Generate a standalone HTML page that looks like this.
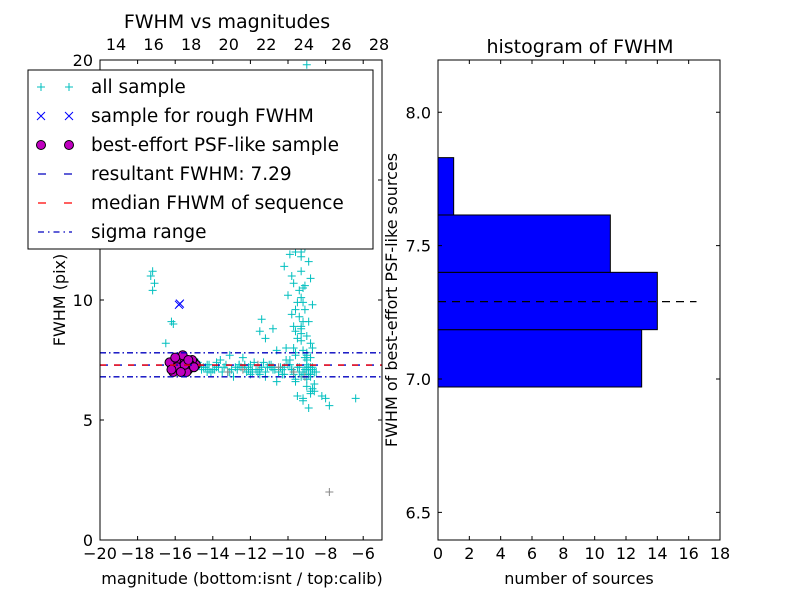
<!DOCTYPE html>
<html><head><meta charset="utf-8"><style>
html,body{margin:0;padding:0;background:#fff;}
svg{display:block;font-family:"DejaVu Sans","Liberation Sans",sans-serif;}
</style></head><body>
<svg id="chart" width="800" height="600" viewBox="0 0 800 600" xmlns="http://www.w3.org/2000/svg">
<g id="left"></g>
<g id="right"></g>
</svg>
<script>
// ---- scatter data ----
const allX = [-17.7,-17.6,-17.6,-17.2,-17.3,-17.1,-17.2,-16.1,-16.5,-14.2,-13.8,-13.2,-12.6,-12.3,-12.0,-11.8,-11.5,-11.2,-11.0,-10.8,-10.5,-10.3,-10.0,-9.8,-9.6,-9.4,-9.2,-9.0,-8.8,-8.6,
-14.5,-14.3,-14.0,-13.7,-13.5,-13.3,-13.0,-12.8,-12.5,-12.2,-12.0,-11.7,-11.4,-11.2,-10.9,-10.7,-10.4,-10.2,-9.9,-9.7,-9.5,-9.3,-9.1,-8.9,-8.7,-8.5,-14.8,-14.1,-13.6,-12.9,-12.4,-11.9,-11.3,-10.6,-10.1,-9.6,-9.0,-8.6,
-10.4,-10.2,-10.0,-9.9,-9.8,-9.7,-9.6,-9.5,-9.4,-9.3,-9.3,-9.2,-9.1,-9.1,-9.0,-9.0,-8.9,-8.9,-8.8,-8.8,-8.7,-8.7,-9.5,-9.4,-9.2,-9.0,-8.9,-9.6,-9.3,-9.1,-8.8,-9.8,-9.5,-9.2,-9.0,-8.9,-9.7,-9.4,-9.1,-8.8,-9.3,-9.0,-9.6,-9.2,-8.9,-9.4,-9.1,-9.3,-9.0,-9.5,-9.2,
-11.4,-11.2,-11.5,-10.8,-12.1,-10.6,-10.1,-9.9,-9.6,-9.3,-9.0,-8.8,-8.7,-9.2,-8.9,-8.6,-8.2,-8.0,-7.8,-6.4,-13.1,-16.2,
-14.6,-14.4,-14.2,-13.9,-13.4,-13.1,-12.7,-12.3,-11.9,-11.6,-11.1,-10.8,-10.5,-10.2,-9.8,-9.4,-9.0,-8.7,-14.7,-14.3,-13.8,-13.2,-12.6,-12.1,-11.5,-10.9,-10.3,-9.7,-9.2,-8.8,
-9.8,-9.6,-9.4,-9.2,-9.0,-8.9,-9.5,-9.3,-9.1,-8.9,-9.7,-9.2,-9.0,-8.8,-9.4,-9.1,-8.9,-9.6,-9.3,-9.0];
const allY = [12.9,12.8,12.5,11.2,11.0,10.7,10.4,9.0,8.2,7.1,7.4,7.0,7.3,7.2,6.9,7.4,7.1,6.8,7.3,7.2,7.0,6.9,7.3,7.1,6.7,7.2,6.9,7.1,6.8,7.0,
7.2,7.3,7.1,7.2,7.0,7.3,7.1,7.2,7.2,7.0,7.3,7.1,7.2,7.0,7.3,7.1,7.2,6.9,7.3,7.0,7.2,6.8,7.1,6.9,7.2,7.0,7.4,7.0,7.5,6.8,7.6,7.0,7.4,6.6,7.5,6.6,7.8,6.5,
12.3,11.4,10.2,11.9,9.4,10.7,12.0,9.9,13.8,11.2,8.8,10.5,14.2,9.6,12.8,8.5,11.6,9.1,10.9,8.2,9.8,8.0,15.0,16.3,17.8,19.8,13.2,7.8,8.3,12.4,6.2,11.0,6.0,5.9,6.4,13.6,8.0,9.3,7.6,6.1,10.1,7.3,8.7,7.9,6.9,14.8,16.9,12.0,18.4,8.4,9.1,
9.2,8.4,8.7,8.8,7.2,7.9,8.0,7.5,9.6,8.9,7.7,7.6,6.3,5.8,5.5,6.2,6.0,5.9,5.6,5.9,7.7,9.1,
7.1,7.2,7.3,7.1,7.2,7.0,7.1,7.3,7.1,7.0,7.2,7.1,7.0,7.2,7.1,7.0,7.2,7.1,7.3,7.0,7.2,7.0,7.3,7.1,6.9,7.2,7.1,6.9,7.0,7.2,
15.5,14.1,13.0,15.8,16.6,14.5,12.6,11.8,10.6,13.3,8.9,9.9,7.5,6.9,10.4,12.2,7.2,7.7,8.6,6.7];
const grayX = [-7.8,-13.2,-10.5,-9.1,-11.6,-12.4,-9.7];
const grayY = [2.0,7.0,7.2,6.8,7.3,7.1,7.0];
const roughX = [-15.75,-15.8];
const roughY = [9.85,9.8];
const psfX = [-16.2,-16.0,-15.8,-15.6,-15.4,-15.2,-15.0,-14.9,-16.1,-15.9,-15.7,-15.5,-15.3,-15.1,-16.3,-15.6,-15.2,-15.9,-15.4,-16.0,-15.5,-15.7,-15.0,-16.2,-15.3];
const psfY = [7.3,7.1,7.4,7.6,7.3,7.2,7.4,7.3,7.0,7.5,7.2,7.4,7.1,7.5,7.4,7.7,7.3,7.2,7.0,7.6,7.3,7.0,7.2,7.1,7.5];
const resultFWHM = 7.29, medianFWHM = 7.29, sigmaLo = 6.8, sigmaHi = 7.8;
const xTicks = [-20,-18,-16,-14,-12,-10,-8,-6];
const xTickLabels = ["\u221220","\u221218","\u221216","\u221214","\u221212","\u221210","\u22128","\u22126"];
const topTicks = [14,16,18,20,22,24,26,28];
const yTicks = [0,5,10,15,20];
// ---- histogram data ----
const binEdges = [6.97,7.185,7.40,7.615,7.83];
const binCounts = [13,14,11,1];
const hxTicks = [0,2,4,6,8,10,12,14,16,18];
const hyTicks = [6.5,7.0,7.5,8.0];
const hyTickLabels = ["6.5","7.0","7.5","8.0"];

const NS="http://www.w3.org/2000/svg";
function mk(parent,tag,attrs,text){const e=document.createElementNS(NS,tag);for(const k in attrs)e.setAttribute(k,attrs[k]);if(text!==undefined)e.textContent=text;parent.appendChild(e);return e;}

const L={x0:100,x1:382,y0:60,y1:540};
const xs=v=>L.x0+(v+20)*(L.x1-L.x0)/15;
const ts=v=>116+(v-14)*(379-116)/14;
const ys=v=>L.y1-v*(L.y1-L.y0)/20;
const left=document.getElementById('left');

for(let i=0;i<allX.length;i++){
  const g=mk(left,'path',{d:`M${xs(allX[i])-4},${ys(allY[i])}h8M${xs(allX[i])},${ys(allY[i])-4}v8`,stroke:'#00bfbf','stroke-width':1});
  
  
}
for(let i=0;i<grayX.length;i++){
  const g=mk(left,'path',{d:`M${xs(grayX[i])-4},${ys(grayY[i])}h8M${xs(grayX[i])},${ys(grayY[i])-4}v8`,stroke:'#888','stroke-width':1});
  
  
}
for(let i=0;i<roughX.length;i++){
  const x=xs(roughX[i]),y=ys(roughY[i]);
  const g=mk(left,'path',{d:`M${x-4},${y-4}l8,8M${x-4},${y+4}l8,-8`,stroke:'#0000ff','stroke-width':1});
  
  
}
for(let i=0;i<psfX.length;i++){
  const c=mk(left,'circle',{cx:xs(psfX[i]),cy:ys(psfY[i]),r:4.5,fill:'#bf00bf',stroke:'#000','stroke-width':1});
  
  
}
function hline(v,color,dash,name){
  const l=mk(left,'line',{x1:L.x0,x2:L.x1,y1:ys(v),y2:ys(v),stroke:color,'stroke-width':1.3,'stroke-dasharray':dash});
  
  
}
hline(sigmaHi,'#0000bf','6,3,1.5,3','sigma-upper-line');
hline(sigmaLo,'#0000bf','6,3,1.5,3','sigma-lower-line');
hline(resultFWHM,'#0000bf','8,6','resultant-fwhm-line');
hline(medianFWHM,'#ff0000','6,8','median-fwhm-line');

mk(left,'rect',{x:L.x0,y:L.y0,width:L.x1-L.x0,height:L.y1-L.y0,fill:'none',stroke:'#000','stroke-width':1});
xTicks.forEach((t,i)=>{const x=xs(t);
  mk(left,'path',{d:`M${x},${L.y1}v-4M${x},${L.y0}v4`,stroke:'#000'});
  const tx=mk(left,'text',{x:x,y:559,'font-size':16,'text-anchor':'middle'},xTickLabels[i]);
  
  
});
topTicks.forEach(t=>{const x=ts(t);
  const tx=mk(left,'text',{x:x,y:50,'font-size':16,'text-anchor':'middle'},String(t));
  
  
});
yTicks.forEach(t=>{const y=ys(t);
  mk(left,'path',{d:`M${L.x0},${y}h4M${L.x1},${y}h-4`,stroke:'#000'});
  const tx=mk(left,'text',{x:93,y:y+6,'font-size':16,'text-anchor':'end'},String(t));
  
  
});
mk(left,'text',{x:227,y:28,'font-size':19,'text-anchor':'middle',},'FWHM vs magnitudes');
mk(left,'text',{x:242,y:584,'font-size':16,'text-anchor':'middle',},'magnitude (bottom:isnt / top:calib)');
mk(left,'text',{x:0,y:0,'font-size':16,'text-anchor':'middle',transform:'translate(65,300) rotate(-90)',},'FWHM (pix)');

const lg=mk(left,'g',{});
mk(lg,'rect',{x:28,y:70,width:345,height:179,fill:'#fff',stroke:'#000','stroke-width':1});
const entries=['all sample','sample for rough FWHM','best-effort PSF-like sample','resultant FWHM: 7.29','median FHWM of sequence','sigma range'];
entries.forEach((t,i)=>{
  const y=87+i*29;
  const e=mk(lg,'g',{});
  
  
  if(i===0){[41,69].forEach(x=>mk(e,'path',{d:`M${x-4},${y}h8M${x},${y-4}v8`,stroke:'#00bfbf'}));}
  if(i===1){[41,69].forEach(x=>mk(e,'path',{d:`M${x-4},${y-4}l8,8M${x-4},${y+4}l8,-8`,stroke:'#0000ff'}));}
  if(i===2){[41,69].forEach(x=>mk(e,'circle',{cx:x,cy:y,r:4.5,fill:'#bf00bf',stroke:'#000'}));}
  if(i===3)mk(e,'line',{x1:38,x2:72,y1:y,y2:y,stroke:'#0000bf','stroke-width':1.3,'stroke-dasharray':'8,18'});
  if(i===4)mk(e,'line',{x1:38,x2:72,y1:y,y2:y,stroke:'#ff0000','stroke-width':1.3,'stroke-dasharray':'8,18'});
  if(i===5)mk(e,'line',{x1:38,x2:72,y1:y,y2:y,stroke:'#0000bf','stroke-width':1.3,'stroke-dasharray':'6,4,1.5,4'});
  mk(e,'text',{x:91,y:y+6,'font-size':18.5},t);
});

const R={x0:438,x1:720,y0:60,y1:540};
const hx=v=>R.x0+v*(R.x1-R.x0)/18;
const hy=v=>379-(v-7.0)*266.7;
const right=document.getElementById('right');
binCounts.forEach((c,i)=>{
  const b=mk(right,'rect',{x:hx(0),y:hy(binEdges[i+1]),width:hx(c)-hx(0),height:hy(binEdges[i])-hy(binEdges[i+1]),fill:'#0000ff',stroke:'#000','stroke-width':1});
  
  
});
mk(right,'line',{x1:hx(0),x2:hx(16.5),y1:hy(resultFWHM),y2:hy(resultFWHM),stroke:'#000','stroke-width':1.3,'stroke-dasharray':'8,6',});
mk(right,'rect',{x:R.x0,y:R.y0,width:R.x1-R.x0,height:R.y1-R.y0,fill:'none',stroke:'#000','stroke-width':1});
hxTicks.forEach(t=>{const x=hx(t);
  mk(right,'path',{d:`M${x},${R.y1}v-4M${x},${R.y0}v4`,stroke:'#000'});
  const tx=mk(right,'text',{x:x,y:559,'font-size':16,'text-anchor':'middle'},String(t));
  
  
});
hyTicks.forEach((t,i)=>{const y=hy(t);
  mk(right,'path',{d:`M${R.x0},${y}h4M${R.x1},${y}h-4`,stroke:'#000'});
  const tx=mk(right,'text',{x:431,y:y+6,'font-size':16,'text-anchor':'end'},hyTickLabels[i]);
  
  
});
mk(right,'text',{x:580,y:53,'font-size':19,'text-anchor':'middle',},'histogram of FWHM');
mk(right,'text',{x:579,y:584,'font-size':16,'text-anchor':'middle',},'number of sources');
mk(right,'text',{x:0,y:0,'font-size':16,'text-anchor':'middle',transform:'translate(397,300) rotate(-90)',},'FWHM of best-effort PSF-like sources');
</script>
</body></html>
